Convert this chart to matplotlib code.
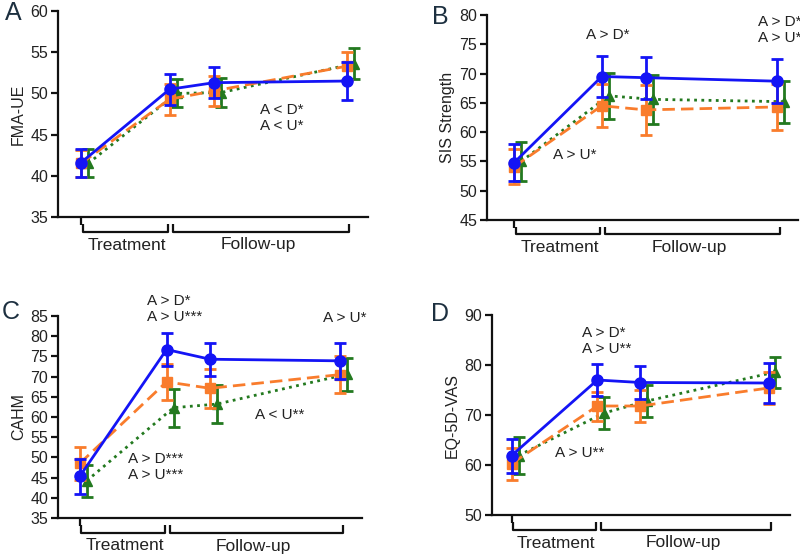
import matplotlib
matplotlib.use("Agg")
import matplotlib.pyplot as plt
from matplotlib.transforms import blended_transform_factory

plt.rcParams['font.family'] = ['Liberation Sans', 'DejaVu Sans']

# ---------------- data ----------------
timepoints = [0, 1, 1.5, 3]

# Panel A: FMA-UE
a_blue = [41.6, 50.5, 51.3, 51.5]
a_blue_err = [1.7, 1.9, 1.9, 2.3]
a_orange = [41.5, 49.3, 50.3, 53.3]
a_orange_err = [1.6, 1.9, 1.8, 1.7]
a_green = [41.5, 50.0, 50.1, 53.6]
a_green_err = [1.7, 1.7, 1.8, 1.9]

# Panel B: SIS Strength
b_blue = [54.8, 69.5, 69.3, 68.7]
b_blue_err = [3.2, 3.5, 3.6, 3.8]
b_orange = [54.1, 64.5, 63.8, 64.3]
b_orange_err = [3.0, 3.7, 4.3, 4.0]
b_green = [55.0, 66.2, 65.6, 65.2]
b_green_err = [3.4, 3.9, 4.2, 3.6]

# Panel C: CAHM
c_blue = [45.3, 76.7, 74.3, 73.9]
c_blue_err = [4.4, 4.0, 4.1, 4.5]
c_orange = [48.5, 68.7, 67.1, 70.5]
c_orange_err = [4.0, 4.4, 4.8, 4.5]
c_green = [44.2, 62.3, 63.2, 70.6]
c_green_err = [4.0, 4.7, 4.8, 4.1]

# Panel D: EQ-5D-VAS
d_blue = [61.9, 77.0, 76.5, 76.4]
d_blue_err = [3.4, 3.2, 3.3, 3.9]
d_orange = [60.3, 71.8, 71.8, 75.4]
d_orange_err = [3.2, 2.9, 3.2, 3.3]
d_green = [61.9, 70.4, 72.8, 78.6]
d_green_err = [3.7, 3.3, 3.2, 3.1]

group_labels = ["Treatment", "Follow-up"]

BLUE = "#1414f5"
ORANGE = "#f97c2c"
GREEN = "#23791f"
TXT = "#222222"

fig = plt.figure(figsize=(8, 5.55), dpi=100)
W, H = 800, 555


def make_ax(l, r, b, t):
    return fig.add_axes([l / W, 1 - b / H, (r - l) / W, (b - t) / H])


def panel(ax, blue, be, orange, oe, green, ge, ylim, yticks, ylabel, xlim):
    off = 0.08
    xs_g = [x + off for x in timepoints]
    ax.errorbar(xs_g, green, yerr=ge, color=GREEN, ls=(0, (1, 1.6)), lw=2,
                marker='^', ms=6.5, capsize=4.5, capthick=2, elinewidth=2, zorder=2)
    ax.errorbar(timepoints, orange, yerr=oe, color=ORANGE, ls=(0, (4.5, 2.2)), lw=2,
                marker='s', ms=7, capsize=4.5, capthick=2, elinewidth=2, zorder=3)
    ax.errorbar(timepoints, blue, yerr=be, color=BLUE, ls='-', lw=2,
                marker='o', ms=8, capsize=4.5, capthick=2, elinewidth=2, zorder=4)
    ax.set_ylim(*ylim)
    ax.set_yticks(yticks)
    ax.set_xlim(*xlim)
    ax.set_xticks([0])
    ax.set_xticklabels([""])
    for s in ['top', 'right']:
        ax.spines[s].set_visible(False)
    for s in ['left', 'bottom']:
        ax.spines[s].set_linewidth(1.6)
        ax.spines[s].set_color('#111111')
    ax.tick_params(axis='both', direction='out', length=5, width=1.6,
                   color='#111111', labelsize=11.5, labelcolor=TXT, pad=2)
    ax.tick_params(axis='x', length=6)
    ax.set_ylabel(ylabel, fontsize=11.5, color=TXT, labelpad=3)
    # group brackets
    hpx = ax.get_position().height * H
    tr = blended_transform_factory(ax.transData, ax.transAxes)
    y_top = -7 / hpx
    y_bar = -14.5 / hpx
    y_txt = -28 / hpx
    for (x0, x1), lab, xc in zip([(0.02, 0.98), (1.04, 3.03)], group_labels, [0.52, 2.0]):
        ax.plot([x0, x0, x1, x1], [y_top, y_bar, y_bar, y_top], transform=tr,
                color='#111111', lw=1.6, clip_on=False, solid_capstyle='butt')
        ax.text(xc, y_txt, lab, transform=tr, ha='center', va='center',
                fontsize=12.5, color=TXT)


axA = make_ax(58, 368, 217, 11)
panel(axA, a_blue, a_blue_err, a_orange, a_orange_err, a_green, a_green_err,
      (35, 60), range(35, 61, 5), "FMA-UE", (-0.26, 3.24))
axB = make_ax(487, 798, 220, 15)
panel(axB, b_blue, b_blue_err, b_orange, b_orange_err, b_green, b_green_err,
      (45, 80), range(45, 81, 5), "SIS Strength", (-0.31, 3.24))
axC = make_ax(58, 362, 518, 316)
panel(axC, c_blue, c_blue_err, c_orange, c_orange_err, c_green, c_green_err,
      (35, 85), range(35, 86, 5), "CAHM", (-0.25, 3.25))
axD = make_ax(492, 790, 515, 315)
panel(axD, d_blue, d_blue_err, d_orange, d_orange_err, d_green, d_green_err,
      (50, 90), range(50, 91, 10), "EQ-5D-VAS", (-0.23, 3.25))

# panel letters
for lab, (x, y) in zip("ABCD", [(13, 13), (440, 17), (11, 312), (440, 314)]):
    fig.text(x / W, 1 - y / H, lab, fontsize=18, color="#1d3040",
             ha='center', va='center')

# significance annotations (figure pixel positions)
notes = [
    ("A < D*\nA < U*", 260, 118, 'left'),
    ("A > D*", 586, 35, 'left'),
    ("A > U*", 553, 155, 'left'),
    ("A > D*\nA > U*", 758, 30, 'left'),
    ("A > D*\nA > U***", 147, 309, 'left'),
    ("A > U*", 323, 318, 'left'),
    ("A < U**", 255, 415, 'left'),
    ("A > D***\nA > U***", 128, 467, 'left'),
    ("A > D*\nA > U**", 582, 341, 'left'),
    ("A > U**", 555, 453, 'left'),
]
for txt, x, y, ha in notes:
    fig.text(x / W, 1 - y / H, txt, fontsize=11, color=TXT, ha=ha,
             va='center', linespacing=1.25)

fig.savefig("out.png", dpi=100)
